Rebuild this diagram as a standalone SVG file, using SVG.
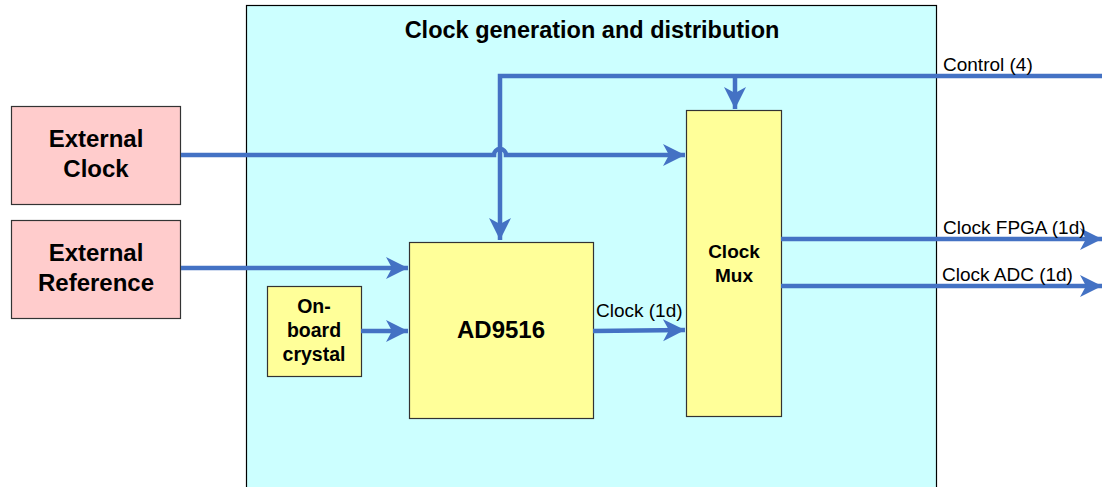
<svg xmlns="http://www.w3.org/2000/svg" width="1102" height="487" viewBox="0 0 1102 487">
<style>
.ext{fill:#FFCCCC;stroke:#333;stroke-width:1.2}
.blk{fill:#FFFF99;stroke:#333;stroke-width:1.2}
.w{stroke:#4472C4;stroke-width:4.5;fill:none}
.b{font-family:"Liberation Sans",Arial,sans-serif;font-weight:bold;fill:#000;text-anchor:middle}
.l{font-family:"Liberation Sans",Arial,sans-serif;font-size:19px;fill:#000}
</style>
<defs>
<marker id="ah" markerUnits="userSpaceOnUse" markerWidth="24" markerHeight="24" viewBox="0 0 24 24" refX="22" refY="12" orient="auto">
<path d="M0,1 L22,12 L0,23 L6,12 Z" fill="#4472C4"/>
</marker>
</defs>
<rect width="1102" height="487" fill="#fff"/>
<g id="container">
<rect x="246.5" y="5.5" width="690" height="490" fill="#CCFFFF" stroke="#000" stroke-width="1.2"/>
<text class="b" x="592" y="38" font-size="23.5">Clock generation and distribution</text>
</g>
<g id="ext-clock">
<rect class="ext" x="11.5" y="106.5" width="169" height="98"/>
<text class="b" x="96" y="147" font-size="24">External</text>
<text class="b" x="96" y="177" font-size="24">Clock</text>
</g>
<g id="ext-ref">
<rect class="ext" x="11.5" y="220.5" width="169" height="98"/>
<text class="b" x="96" y="261" font-size="24">External</text>
<text class="b" x="96" y="291" font-size="24">Reference</text>
</g>
<g id="crystal">
<rect class="blk" x="267.5" y="286.5" width="94" height="90"/>
<text class="b" x="314" y="313" font-size="19.5">On-</text>
<text class="b" x="314" y="337" font-size="19.5">board</text>
<text class="b" x="314" y="361" font-size="19.5">crystal</text>
</g>
<g id="ad9516">
<rect class="blk" x="409.5" y="242.5" width="184" height="176"/>
<text class="b" x="501" y="338" font-size="24">AD9516</text>
</g>
<g id="mux">
<rect class="blk" x="686.5" y="110.5" width="95" height="306"/>
<text class="b" x="734" y="258" font-size="19">Clock</text>
<text class="b" x="734" y="282" font-size="19">Mux</text>
</g>
<g id="connectors">
<path class="w" d="M1102,76 L500,76 L500,240" marker-end="url(#ah)"/>
<path class="w" d="M735,76 L735,109" marker-end="url(#ah)"/>
<path class="w" d="M181,155 L494,155 A6,6 0 0 1 506,155 L685,155" marker-end="url(#ah)"/>
<path class="w" d="M181,268 L408,268" marker-end="url(#ah)"/>
<path class="w" d="M361,331 L408,331" marker-end="url(#ah)"/>
<path class="w" d="M593,331 L685,330" marker-end="url(#ah)"/>
<path class="w" d="M781,239 L1102,239" marker-end="url(#ah)"/>
<path class="w" d="M781,286 L1102,286" marker-end="url(#ah)"/>
</g>
<g id="labels">
<text class="l" x="943" y="71">Control (4)</text>
<text class="l" x="596" y="317">Clock (1d)</text>
<text class="l" x="943" y="234">Clock FPGA (1d)</text>
<text class="l" x="942" y="281">Clock ADC (1d)</text>
</g>
</svg>
